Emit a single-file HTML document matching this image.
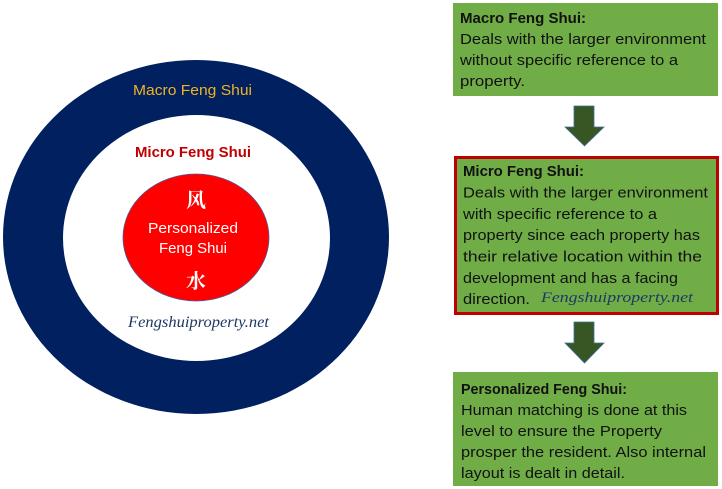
<!DOCTYPE html>
<html>
<head>
<meta charset="utf-8">
<style>
html,body{margin:0;padding:0;background:#fff;}
svg{display:block;}
.t{font-family:"Liberation Sans","Noto Sans CJK SC",sans-serif;font-size:15px;fill:#111;}
.b{font-weight:bold;}
.s{font-family:"Liberation Serif","DejaVu Serif",serif;font-style:italic;fill:#1f3864;}
</style>
</head>
<body>
<svg width="722" height="489" viewBox="0 0 722 489" xmlns="http://www.w3.org/2000/svg">
  <!-- circles -->
  <ellipse cx="196" cy="237" rx="193" ry="177" fill="#002060"/>
  <ellipse cx="196.5" cy="238" rx="133.5" ry="123" fill="#ffffff"/>
  <ellipse cx="196" cy="237.5" rx="73" ry="63.5" fill="#ff0000" stroke="#4a5f9a" stroke-width="0.8"/>

  <text x="133" y="95" class="t" style="fill:#f0b323" textLength="119" lengthAdjust="spacingAndGlyphs">Macro Feng Shui</text>
  <text x="135" y="157" class="t b" style="fill:#c00000" textLength="116" lengthAdjust="spacingAndGlyphs">Micro Feng Shui</text>
  <text x="196" y="207" text-anchor="middle" style="font-family:'Noto Serif CJK SC','WenQuanYi Zen Hei',serif;font-weight:bold;font-size:20px;fill:#fff">风</text>
  <text x="148" y="233" class="t" style="fill:#fff" textLength="90" lengthAdjust="spacingAndGlyphs">Personalized</text>
  <text x="159" y="253" class="t" style="fill:#fff" textLength="68" lengthAdjust="spacingAndGlyphs">Feng Shui</text>
  <text x="196" y="288" text-anchor="middle" style="font-family:'Noto Serif CJK SC','WenQuanYi Zen Hei',serif;font-weight:bold;font-size:20px;fill:#fff">水</text>
  <text x="128" y="327" class="s" style="font-size:16px" textLength="141" lengthAdjust="spacingAndGlyphs">Fengshuiproperty.net</text>

  <!-- box 1 -->
  <rect x="453" y="3" width="265" height="93" fill="#70ad47"/>
  <text x="460" y="23" class="t b" textLength="126" lengthAdjust="spacingAndGlyphs">Macro Feng Shui:</text>
  <text x="460" y="44" class="t" textLength="246" lengthAdjust="spacingAndGlyphs">Deals with the larger environment</text>
  <text x="460" y="65" class="t" textLength="218" lengthAdjust="spacingAndGlyphs">without specific reference to a</text>
  <text x="460" y="86" class="t" textLength="65" lengthAdjust="spacingAndGlyphs">property.</text>

  <!-- arrow 1 -->
  <polygon points="574,106 594,106 594,127 604,127 584.5,146 565,127 574,127" fill="#375623" stroke="#41719c" stroke-width="0.8"/>

  <!-- box 2 -->
  <rect x="455.5" y="157.5" width="262" height="156" fill="#70ad47" stroke="#c00000" stroke-width="3"/>
  <text x="463" y="176" class="t b" textLength="121" lengthAdjust="spacingAndGlyphs">Micro Feng Shui:</text>
  <text x="463" y="197.5" class="t" textLength="245" lengthAdjust="spacingAndGlyphs">Deals with the larger environment</text>
  <text x="463" y="219" class="t" textLength="194" lengthAdjust="spacingAndGlyphs">with specific reference to a</text>
  <text x="463" y="240" class="t" textLength="237" lengthAdjust="spacingAndGlyphs">property since each property has</text>
  <text x="463" y="261.5" class="t" textLength="239" lengthAdjust="spacingAndGlyphs">their relative location within the</text>
  <text x="463" y="283" class="t" textLength="215" lengthAdjust="spacingAndGlyphs">development and has a facing</text>
  <text x="463" y="304" class="t" textLength="67" lengthAdjust="spacingAndGlyphs">direction.</text>
  <text x="541" y="302" class="s" style="font-size:15px" textLength="152" lengthAdjust="spacingAndGlyphs">Fengshuiproperty.net</text>

  <!-- arrow 2 -->
  <polygon points="574,322 594,322 594,343 604,343 584.5,363 565,343 574,343" fill="#375623" stroke="#41719c" stroke-width="0.8"/>

  <!-- box 3 -->
  <rect x="453" y="372" width="265" height="114" fill="#70ad47"/>
  <text x="461" y="394" class="t b" textLength="166" lengthAdjust="spacingAndGlyphs">Personalized Feng Shui:</text>
  <text x="461" y="415" class="t" textLength="226" lengthAdjust="spacingAndGlyphs">Human matching is done at this</text>
  <text x="461" y="436" class="t" textLength="201" lengthAdjust="spacingAndGlyphs">level to ensure the Property</text>
  <text x="461" y="457" class="t" textLength="245" lengthAdjust="spacingAndGlyphs">prosper the resident. Also internal</text>
  <text x="461" y="478" class="t" textLength="164" lengthAdjust="spacingAndGlyphs">layout is dealt in detail.</text>
</svg>
</body>
</html>
